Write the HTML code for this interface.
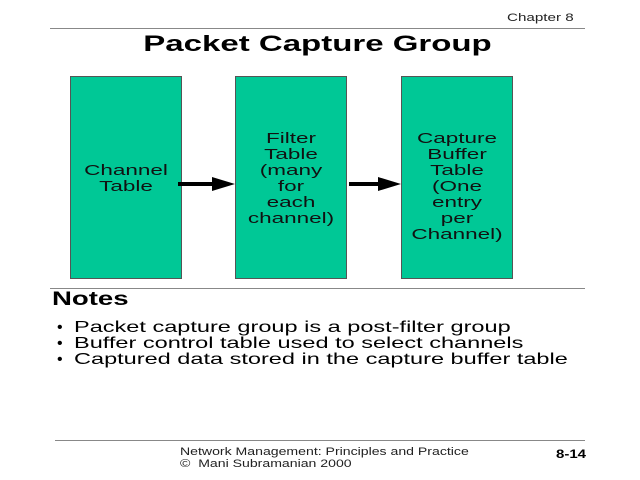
<!DOCTYPE html>
<html><head><style>
body{margin:0;width:640px;height:480px;background:#fff;position:relative;font-family:"Liberation Sans",sans-serif;overflow:hidden}
.a{position:absolute;white-space:nowrap}
.s{transform-origin:0 0}
.box{position:absolute;background:#00C896;border:1px solid #555;box-sizing:border-box}
.bt{position:absolute;left:0;width:100%;text-align:center;font-size:15px;line-height:16px;color:#111;transform:scaleX(1.5);transform-origin:50% 0}
.hl{position:absolute;height:1px;background:#888}
</style></head><body>
<div class="a s" style="left:507px;top:12px;font-size:11px;color:#222;transform:scaleX(1.38)">Chapter 8</div>
<div class="hl" style="left:50px;top:28px;width:535px"></div>
<div class="a" style="left:0;width:640px;text-align:center;top:31px;font-size:22px;font-weight:bold;transform:scaleX(1.5);transform-origin:325px 0">Packet Capture Group</div>
<div class="box" style="left:70px;top:76px;width:112px;height:203px"><div class="bt" style="top:86px">Channel<br>Table</div></div>
<div class="box" style="left:235px;top:76px;width:112px;height:203px"><div class="bt" style="top:54px">Filter<br>Table<br>(many<br>for<br>each<br>channel)</div></div>
<div class="box" style="left:401px;top:76px;width:112px;height:203px"><div class="bt" style="top:54px">Capture<br>Buffer<br>Table<br>(One<br>entry<br>per<br>Channel)</div></div>
<svg class="a" style="left:0;top:0" width="640" height="480">
<line x1="178" y1="184" x2="215" y2="184" stroke="#000" stroke-width="4"/>
<polygon points="212,177 235,184 212,191" fill="#000"/>
<line x1="349" y1="184" x2="381" y2="184" stroke="#000" stroke-width="4"/>
<polygon points="378,177 401,184 378,191" fill="#000"/>
</svg>
<div class="hl" style="left:50px;top:288px;width:535px"></div>
<div class="a s" style="left:52px;top:289px;font-size:19px;font-weight:bold;transform:scaleX(1.45)">Notes</div>
<div class="a" style="left:57px;top:320px;font-size:16px;line-height:16px">•</div>
<div class="a" style="left:57px;top:336px;font-size:16px;line-height:16px">•</div>
<div class="a" style="left:57px;top:352px;font-size:16px;line-height:16px">•</div>
<div class="a s" style="left:74px;top:320px;font-size:16px;line-height:16px;transform:scaleX(1.47)">Packet capture group is a post-filter group</div>
<div class="a s" style="left:74px;top:336px;font-size:16px;line-height:16px;transform:scaleX(1.47)">Buffer control table used to select channels</div>
<div class="a s" style="left:74px;top:352px;font-size:16px;line-height:16px;transform:scaleX(1.47)">Captured data stored in the capture buffer table</div>
<div class="hl" style="left:55px;top:440px;width:530px"></div>
<div class="a s" style="left:180px;top:446px;font-size:11px;line-height:12px;color:#222;transform:scaleX(1.28)">Network Management: Principles and Practice<br>© &nbsp;Mani Subramanian 2000</div>
<div class="a s" style="left:556px;top:447px;font-size:12px;font-weight:bold;transform:scaleX(1.25)">8-14</div>
</body></html>
